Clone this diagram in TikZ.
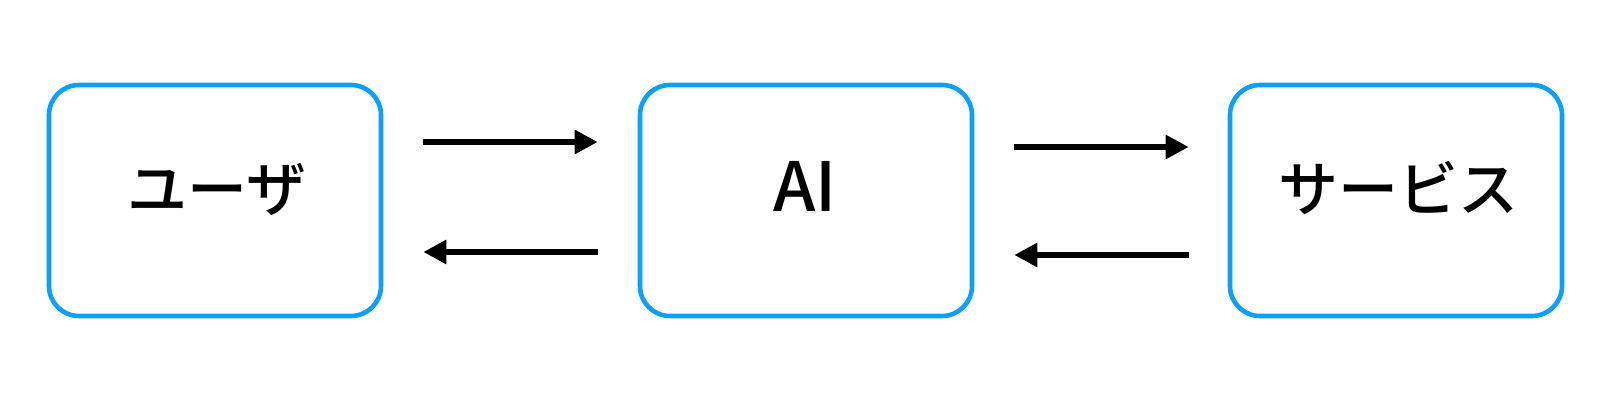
\documentclass[tikz,border=0pt]{standalone}
\usepackage{fontspec}
\newfontfamily\jp{Noto Sans CJK JP Medium}
\usetikzlibrary{arrows.meta}
\definecolor{boxblue}{RGB}{12,160,250}
\tikzset{
  box/.style={draw=boxblue, line width=2.3pt, rounded corners=15pt, rectangle,
    minimum width=166pt, minimum height=115.5pt, inner sep=0pt},
  lbl/.style={anchor=base, inner sep=0pt, font=\jp\fontsize{30pt}{36pt}\selectfont},
  arr/.style={line width=3pt, -{Triangle[length=11.5pt,width=11.5pt]}}
}
\begin{document}
\begin{tikzpicture}[x=0.5pt,y=-0.5pt]
\useasboundingbox (0,0) rectangle (1608,400);
\node[box] (b1) at (215,200.5) {};
\node[box] (b2) at (806,200.5) {};
\node[box] (b3) at (1396,200.5) {};
\node[lbl] (t1) at (217,212) {ユーザ};
\node[lbl, font=\jp\fontsize{34pt}{40pt}\selectfont] (t2) at (805,212) {AI};
\node[lbl] (t3) at (1398,212) {サービス};
\draw[arr] ([shift={(20pt,29.25pt)}]b1.east) -- ([shift={(-20pt,29.25pt)}]b2.west);
\draw[arr] ([shift={(-20pt,-25.75pt)}]b2.west) -- ([shift={(20pt,-25.75pt)}]b1.east);
\draw[arr] ([shift={(20pt,26.75pt)}]b2.east) -- ([shift={(-19.5pt,26.75pt)}]b3.west);
\draw[arr] ([shift={(-19.5pt,-27.25pt)}]b3.west) -- ([shift={(20pt,-27.25pt)}]b2.east);
\end{tikzpicture}
\end{document}
